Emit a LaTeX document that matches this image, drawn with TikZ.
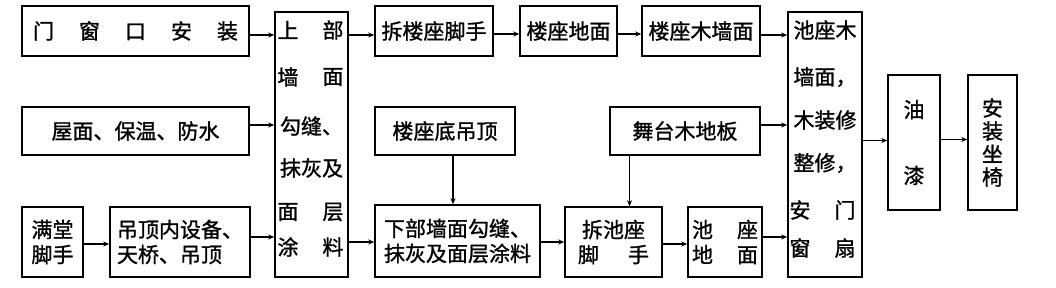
\documentclass[tikz,border=0pt]{standalone}
\usepackage{fontspec}
\newfontfamily\cjk{Noto Sans CJK SC}[FakeBold=1.2]
\usetikzlibrary{arrows.meta}
\begin{document}
\begin{tikzpicture}[x=1pt,y=-1pt,
  box/.style={draw, line width=1.5pt, inner sep=1pt, align=center,
    font=\cjk\fontsize{21}{25}\selectfont},
  txt/.style={inner sep=0pt, font=\cjk\fontsize{21}{25}\selectfont},
  arr/.style={line width=1.4pt, -{Stealth[length=6pt,width=5pt]}}]
\useasboundingbox (0,0) rectangle (1056,288);
% left column
\node[box, minimum width=227pt, minimum height=50pt] (b1) at (135.5,31)
  {门\hspace{25pt}窗\hspace{25pt}口\hspace{25pt}安\hspace{25pt}装};
\node[box, minimum width=227pt, minimum height=48pt] (b2) at (135.5,131) {屋面、保温、防水};
\node[box, minimum width=61pt, minimum height=70pt] (b3) at (52.5,242) {满堂\\脚手};
\node[box, minimum width=140pt, minimum height=70pt, align=left] (b4) at (180,242) {吊顶内设备、\\天桥、吊顶};
% tall box 5
\node[box, minimum width=73pt, minimum height=265pt] (b5) at (311.5,144.5) {};
\node[txt] (t5a) at (288,30) {上};
\node[txt] (t5b) at (333,30) {部};
\node[txt] (t5c) at (288,77) {墙};
\node[txt] (t5d) at (333,77) {面};
\node[txt] (t5e) at (311.5,126) {勾缝、};
\node[txt] (t5f) at (311.5,168) {抹灰及};
\node[txt] (t5g) at (288,212) {面};
\node[txt] (t5h) at (333,212) {层};
\node[txt] (t5i) at (288,247) {涂};
\node[txt] (t5j) at (333,247) {料};
% top row
\node[box, minimum width=118pt, minimum height=50pt] (b6) at (434,31) {拆楼座脚手};
\node[box, minimum width=97pt, minimum height=50pt] (b7) at (568.5,31) {楼座地面};
\node[box, minimum width=118pt, minimum height=50pt] (b8) at (701,31) {楼座木墙面};
% middle row
\node[box, minimum width=140pt, minimum height=48pt] (b10) at (445,131) {楼座底吊顶};
\node[box, minimum width=150pt, minimum height=48pt] (b11) at (685,131) {舞台木地板};
% bottom row
\node[box, minimum width=165pt, minimum height=72pt] (b12) at (457.5,241) {下部墙面勾缝、\\抹灰及面层涂料};
\node[box, minimum width=97pt, minimum height=70pt] (b13) at (613.5,242) {拆池座\\脚\hspace{29pt}手};
\node[box, minimum width=74pt, minimum height=70pt] (b14) at (725,242) {池\hspace{24pt}座\\地\hspace{24pt}面};
% tall box 9
\node[box, minimum width=74pt, minimum height=265pt] (b9) at (825,144.5) {};
\node[txt] (t9a) at (825,30) {池座木};
\node[txt] (t9b) at (825,77) {墙面，};
\node[txt] (t9c) at (825,120) {木装修};
\node[txt] (t9d) at (825,163) {整修，};
\node[txt] (t9e) at (800,210) {安};
\node[txt] (t9f) at (845,210) {门};
\node[txt] (t9g) at (800,248) {窗};
\node[txt] (t9h) at (845,248) {扇};
% right boxes
\node[box, minimum width=52pt, minimum height=135pt] (b15) at (914,142.5) {油\\[41pt]漆};
\node[box, minimum width=49pt, minimum height=135pt, font=\cjk\fontsize{21}{23}\selectfont] (b16) at (992.5,142.5) {安\\装\\坐\\椅};
% arrows
\draw[arr] ([yshift=-4pt]b1.east) -- ([yshift=-4pt]b1.east -| b5.west);
\draw[arr] ([yshift=6pt]b2.east) -- ([yshift=6pt]b2.east -| b5.west);
\draw[arr] ([yshift=-2pt]b3.east) -- ([yshift=-2pt]b3.east -| b4.west);
\draw[arr] ([yshift=5pt]b4.east) -- ([yshift=5pt]b4.east -| b5.west);
\draw[arr] ([yshift=-4pt]b6.west -| b5.east) -- ([yshift=-4pt]b6.west);
\draw[arr] ([yshift=-3pt]b6.east) -- ([yshift=-3pt]b6.east -| b7.west);
\draw[arr] ([yshift=-3pt]b7.east) -- ([yshift=-3pt]b7.east -| b8.west);
\draw[arr] ([yshift=-4pt]b8.east) -- ([yshift=-4pt]b8.east -| b9.west);
\draw[arr] ([xshift=8pt]b10.south) -- ([xshift=8pt]b10.south |- b12.north);
\draw[arr] ([xshift=16pt]b13.north |- b11.south) -- ([xshift=16pt]b13.north);
\draw[arr] ([yshift=-1pt]b12.west -| b5.east) -- ([yshift=-1pt]b12.west);
\draw[arr] ([yshift=-1pt]b12.east) -- ([yshift=-1pt]b12.east -| b13.west);
\draw[arr] ([yshift=-2pt]b13.east) -- ([yshift=-2pt]b13.east -| b14.west);
\draw[arr] ([yshift=5pt]b14.east) -- ([yshift=5pt]b14.east -| b9.west);
\draw[arr] ([yshift=6pt]b11.east) -- ([yshift=6pt]b11.east -| b9.west);
\draw[arr] ([yshift=2pt]b15.west -| b9.east) -- ([yshift=2pt]b15.west);
\draw[arr] ([yshift=3pt]b15.east) -- ([yshift=3pt]b15.east -| b16.west);
\end{tikzpicture}
\end{document}
